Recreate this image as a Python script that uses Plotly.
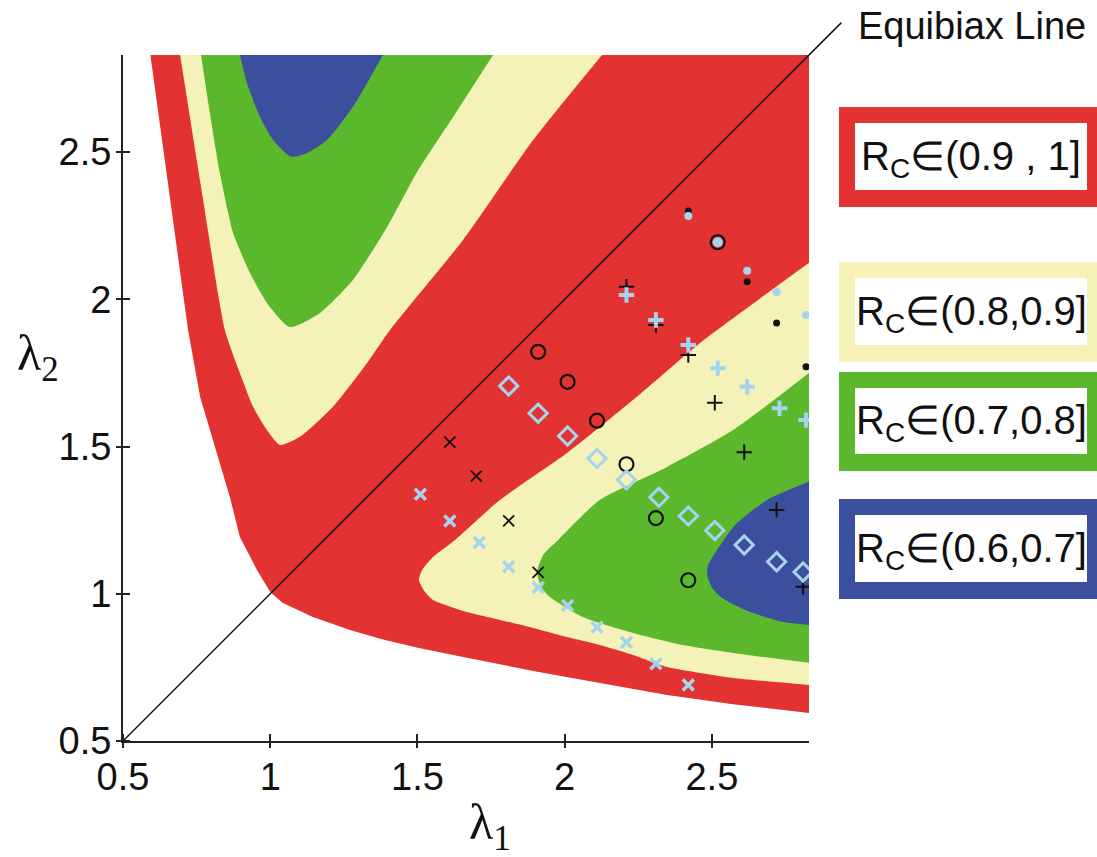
import plotly.graph_objects as go

# ---------------- data ----------------
AX_MIN, AX_MAX = 0.5, 2.83
tick_vals = [0.5, 1, 1.5, 2, 2.5]
tick_text = ["0.5", "1", "1.5", "2", "2.5"]

# outer boundary of the plotted domain (white outside)
red_x = [0.593, 0.660, 0.721, 0.762, 0.806, 0.863, 0.897, 0.955, 1.000, 1.043, 1.145,
         1.271, 1.383, 1.509, 1.668, 1.893, 2.120, 2.348, 2.572, 2.834]
red_y = [2.830, 2.345, 1.896, 1.668, 1.522, 1.329, 1.193, 1.081, 1.006, 0.969, 0.921,
         0.877, 0.845, 0.815, 0.783, 0.738, 0.697, 0.656, 0.625, 0.595]

# upper-left lobes (lambda2 > lambda1)
yel_ul_x = [0.694, 0.772, 0.846, 0.897, 0.942, 0.989, 1.033, 1.101, 1.213, 1.329, 1.407, 1.655, 1.893, 2.127]
yel_ul_y = [2.830, 2.338, 1.896, 1.750, 1.635, 1.556, 1.505, 1.533, 1.635, 1.784, 1.896, 2.202, 2.541, 2.830]
grn_ul_x = [0.765, 0.796, 0.829, 0.874, 0.931, 0.989, 1.067, 1.169, 1.281, 1.397, 1.499, 1.628, 1.757]
grn_ul_y = [2.830, 2.626, 2.429, 2.226, 2.090, 1.988, 1.906, 1.954, 2.066, 2.246, 2.433, 2.630, 2.830]
blu_ul_x = [0.897, 0.921, 0.965, 1.010, 1.071, 1.125, 1.193, 1.281, 1.383]
blu_ul_y = [2.830, 2.735, 2.620, 2.541, 2.484, 2.497, 2.541, 2.654, 2.830]

# lower-right lobes (lambda1 > lambda2)
yel_lr_x = [2.834, 2.657, 2.460, 2.232, 2.008, 1.781, 1.628, 1.553, 1.516, 1.505, 1.526, 1.553,
            1.668, 1.781, 1.893, 2.008, 2.120, 2.232, 2.348, 2.460, 2.572, 2.834]
yel_lr_y = [2.127, 1.998, 1.852, 1.658, 1.478, 1.319, 1.183, 1.125, 1.081, 1.047, 1.006, 0.979,
            0.938, 0.911, 0.884, 0.853, 0.826, 0.792, 0.751, 0.731, 0.714, 0.690]
grn_lr_x = [2.834, 2.572, 2.348, 2.120, 1.978, 1.927, 1.906, 1.923, 1.950, 2.062, 2.232, 2.402, 2.572, 2.834]
grn_lr_y = [1.753, 1.556, 1.431, 1.319, 1.183, 1.132, 1.071, 1.020, 0.989, 0.921, 0.867, 0.826, 0.799, 0.765]
blu_lr_x = [2.834, 2.688, 2.579, 2.518, 2.487, 2.484, 2.501, 2.535, 2.630, 2.742, 2.834]
blu_lr_y = [1.383, 1.319, 1.234, 1.149, 1.098, 1.064, 1.020, 0.986, 0.938, 0.904, 0.894]

# scatter markers
bx_x = [1.61, 1.70, 1.81, 1.91]
bx_y = [1.515, 1.400, 1.248, 1.073]
lbx_x = [1.51, 1.61, 1.71, 1.81, 1.91, 2.01, 2.11, 2.21, 2.31, 2.42]
lbx_y = [1.338, 1.247, 1.174, 1.092, 1.021, 0.960, 0.886, 0.835, 0.762, 0.690]
bo_x = [1.91, 2.01, 2.11, 2.21, 2.31, 2.42, 2.52]
bo_y = [1.822, 1.720, 1.588, 1.440, 1.257, 1.046, 2.194]
lbd_x = [1.81, 1.91, 2.01, 2.11, 2.21, 2.32, 2.42, 2.51, 2.61, 2.72, 2.81]
lbd_y = [1.706, 1.613, 1.536, 1.460, 1.387, 1.328, 1.264, 1.215, 1.166, 1.109, 1.074]
lbfill_x = [2.52]
lbfill_y = [2.194]
bp_x = [2.21, 2.31, 2.42, 2.51, 2.61, 2.72, 2.81]
bp_y = [2.043, 1.913, 1.811, 1.649, 1.481, 1.285, 1.024]
lbp_x = [2.21, 2.31, 2.42, 2.52, 2.62, 2.73, 2.82]
lbp_y = [2.015, 1.930, 1.845, 1.766, 1.703, 1.630, 1.590]
bd_x = [2.42, 2.62, 2.72, 2.82]
bd_y = [2.300, 2.060, 1.920, 1.771]
lbdot_x = [2.42, 2.62, 2.72, 2.82]
lbdot_y = [2.283, 2.097, 2.025, 1.947]

equibiax_end = 2.94

legend_labels = ["R<sub>C</sub>∈(0.9 , 1]", "R<sub>C</sub>∈(0.8,0.9]",
                 "R<sub>C</sub>∈(0.7,0.8]", "R<sub>C</sub>∈(0.6,0.7]"]

# ---------------- styles ----------------
RED, YEL, GRN, BLU = "#E23232", "#F4F2B8", "#5BB82D", "#3B4F9E"
LB = "#A6D4EE"
W, H = 1097, 857
ML, MR, MT, MB = 123, 288, 55, 116
PW, PH = W - ML - MR, H - MT - MB


def pxx(p):
    return (p - ML) / PW


def pxy(p):
    return (H - MB - p) / PH


fig = go.Figure()


def region(x, y, color, shape="spline"):
    fig.add_trace(go.Scatter(x=x, y=y, mode="lines", fill="toself", fillcolor=color,
                             line=dict(width=0, color=color, shape=shape, smoothing=0.6),
                             hoverinfo="skip", showlegend=False))


region(red_x + [AX_MAX], red_y + [AX_MAX], RED, shape="linear")
region(yel_ul_x, yel_ul_y, YEL)
region(yel_lr_x, yel_lr_y, YEL)
region(grn_ul_x, grn_ul_y, GRN)
region(grn_lr_x, grn_lr_y, GRN)
region(blu_ul_x, blu_ul_y, BLU)
region(blu_lr_x, blu_lr_y, BLU)


def pts(x, y, symbol, size, color, lw=0, fill=None):
    m = dict(symbol=symbol, size=size, color=fill if fill else color,
             line=dict(color=color, width=lw))
    fig.add_trace(go.Scatter(x=x, y=y, mode="markers", marker=m, showlegend=False,
                             hoverinfo="skip"))


pts(bx_x, bx_y, "x-thin-open", 11, "#111111", 1.8)
pts(bo_x, bo_y, "circle-open", 14, "#111111", 2.2)
pts(bp_x, bp_y, "cross-thin-open", 11, "#111111", 2)
pts(bd_x, bd_y, "circle", 7, "#111111")
pts(lbx_x, lbx_y, "x-thin-open", 11, LB, 3.5)
pts(lbd_x, lbd_y, "diamond-open", 14, LB, 3)
pts(lbfill_x, lbfill_y, "circle", 10, LB)
pts(lbp_x, lbp_y, "cross-thin-open", 11, LB, 4)
pts(lbdot_x, lbdot_y, "circle", 8, LB)

# equibiax line (extends past the plot corner to its label)
t_end = (equibiax_end - AX_MIN) / (AX_MAX - AX_MIN)
fig.add_shape(type="line", xref="paper", yref="paper", x0=0, y0=0, x1=t_end, y1=t_end,
              line=dict(color="#111111", width=1.5), layer="above")
fig.add_annotation(xref="paper", yref="paper", x=pxx(972), y=pxy(26), text="Equibiax Line",
                   showarrow=False, xanchor="center", yanchor="middle",
                   font=dict(family="Liberation Sans, Arial", size=38, color="#111"))

# legend boxes
colors = [RED, YEL, GRN, BLU]
outer = [(107, 207), (262, 362), (372, 471), (499, 599)]
for lab, col, (t, b) in zip(legend_labels, colors, outer):
    fig.add_shape(type="rect", xref="paper", yref="paper", x0=pxx(839), x1=pxx(1110),
                  y0=pxy(b), y1=pxy(t), fillcolor=col, line=dict(width=0), layer="above")
    fig.add_shape(type="rect", xref="paper", yref="paper", x0=pxx(855), x1=pxx(1087),
                  y0=pxy(b - 17), y1=pxy(t + 16), fillcolor="white", line=dict(width=0), layer="above")
    fig.add_annotation(xref="paper", yref="paper", x=pxx(971), y=pxy((t + b) / 2 + 2),
                       text=lab, showarrow=False, xanchor="center", yanchor="middle",
                       font=dict(family="Liberation Sans, Arial", size=40, color="#111"))

# axis titles
fig.add_annotation(xref="paper", yref="paper", x=pxx(490), y=pxy(826), text="λ<sub>1</sub>",
                   showarrow=False, xanchor="center", yanchor="middle",
                   font=dict(family="Liberation Serif, Times New Roman", size=50, color="#111"))
fig.add_annotation(xref="paper", yref="paper", x=pxx(38), y=pxy(357), text="λ<sub>2</sub>",
                   showarrow=False, xanchor="center", yanchor="middle",
                   font=dict(family="Liberation Serif, Times New Roman", size=50, color="#111"))

axis_common = dict(range=[AX_MIN, AX_MAX], showgrid=False, zeroline=False, showline=True,
                   linecolor="#222222", linewidth=2, ticks="outside", ticklen=5, tickwidth=2,
                   tickcolor="#222222", tickvals=tick_vals, ticktext=tick_text,
                   tickfont=dict(family="Liberation Sans, Arial", size=38, color="#111"),
                   minor=dict(ticks="inside", tickvals=tick_vals, ticklen=7, tickwidth=2,
                              tickcolor="#222222", showgrid=False))
fig.update_xaxes(ticklabelstandoff=-4, **axis_common)
fig.update_yaxes(ticklabelstandoff=-3, **axis_common)

fig.update_layout(width=W, height=H, margin=dict(l=ML, r=MR, t=MT, b=MB),
                  plot_bgcolor="white", paper_bgcolor="white", showlegend=False)

fig.write_html("out.html")
